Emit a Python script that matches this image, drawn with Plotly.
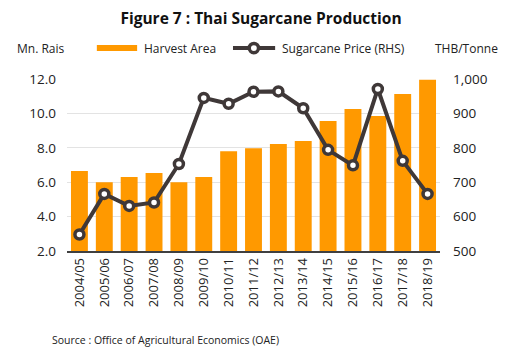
import plotly.graph_objects as go

seasons = ["2004/05", "2005/06", "2006/07", "2007/08", "2008/09", "2009/10", "2010/11",
           "2011/12", "2012/13", "2013/14", "2014/15", "2015/16", "2016/17", "2017/18", "2018/19"]
harvest_area = [6.65, 6.0, 6.3, 6.53, 6.0, 6.3, 7.8, 7.97, 8.22, 8.4, 9.56, 10.26, 9.85, 11.13, 11.95]
cane_price = [548, 666, 631, 641, 753, 945, 928, 963, 964, 915, 794, 749, 971, 762, 666]

left_ticks = [2, 4, 6, 8, 10, 12]
right_ticks = [500, 600, 700, 800, 900, 1000]

FONT = "Open Sans"
TXT = "#222222"
ORANGE = "#FF9900"
LINE = "#3F3838"

fig = go.Figure()
fig.add_trace(go.Bar(x=seasons, y=harvest_area, name="Harvest Area",
                     marker=dict(color=ORANGE, line=dict(width=0))))
fig.add_trace(go.Scatter(x=seasons, y=cane_price, name="Sugarcane Price (RHS)", yaxis="y2",
                         mode="lines+markers",
                         line=dict(color=LINE, width=4),
                         marker=dict(size=9, color="white", line=dict(color=LINE, width=3.5))))

# page body has an 8px margin, so the figure is 8px smaller and offset by the browser
fig.update_layout(
    width=506, height=348,
    margin=dict(l=59, r=74, t=71, b=105, autoexpand=False),
    paper_bgcolor="white", plot_bgcolor="white",
    font=dict(family=FONT, size=12, color=TXT),
    bargap=0.32,
    showlegend=False,
    title=dict(text="<b>Figure 7 : Thai Sugarcane Production</b>", x=0.5, xanchor="center",
               y=0.971, yref="container", yanchor="middle",
               font=dict(size=15.5, color="#111111", family=FONT)),
    xaxis=dict(type="category", range=[-0.5, 14.5], tickangle=-90, showgrid=False,
               showline=True, linecolor="#404040", linewidth=1.5, ticks="",
               tickfont=dict(size=13, color=TXT)),
    yaxis=dict(range=[2, 12], tickvals=left_ticks, tickformat=".1f", showgrid=True,
               gridcolor="#E3E3E3", gridwidth=1, zeroline=False, showline=False,
               ticklabelstandoff=10, tickfont=dict(size=13.5, color=TXT)),
    yaxis2=dict(range=[500, 1000], tickvals=right_ticks, tickformat=",d", overlaying="y",
                side="right", showgrid=False, zeroline=False, showline=False,
                ticklabelstandoff=12, tickfont=dict(size=13.5, color=TXT)),
)

# custom legend row
fig.add_shape(type="rect", xref="paper", yref="paper", x0=0.080, x1=0.188, y0=1.163, y1=1.198,
              fillcolor=ORANGE, line=dict(width=0))
fig.add_shape(type="line", xref="paper", yref="paper", x0=0.445, x1=0.558, y0=1.18, y1=1.18,
              line=dict(color=LINE, width=4))
fig.add_shape(type="circle", xref="paper", yref="paper", x0=0.501 - 0.0125, x1=0.501 + 0.0125,
              y0=1.18 - 0.027, y1=1.18 + 0.027, fillcolor="white", line=dict(color=LINE, width=3.5))
fig.add_annotation(text="Harvest Area", xref="paper", yref="paper", x=0.201, y=1.18,
                   xanchor="left", yanchor="middle", showarrow=False, font=dict(size=12, color=TXT))
fig.add_annotation(text="Sugarcane Price (RHS)", xref="paper", yref="paper", x=0.571, y=1.18,
                   xanchor="left", yanchor="middle", showarrow=False, font=dict(size=12, color=TXT))

fig.add_annotation(text="Mn. Rais", xref="paper", yref="paper", x=-0.139, y=1.18,
                   xanchor="left", yanchor="middle", showarrow=False, font=dict(size=12, color=TXT))
fig.add_annotation(text="THB/Tonne", xref="paper", yref="paper", x=1.16, y=1.18,
                   xanchor="right", yanchor="middle", showarrow=False, font=dict(size=12, color=TXT))
fig.add_annotation(text="Source : Office of Agricultural Economics (OAE)", xref="paper", yref="paper",
                   x=-0.046, y=-0.517, xanchor="left", yanchor="middle", showarrow=False,
                   font=dict(size=10.5, color=TXT))

fig.write_html("out.html")
